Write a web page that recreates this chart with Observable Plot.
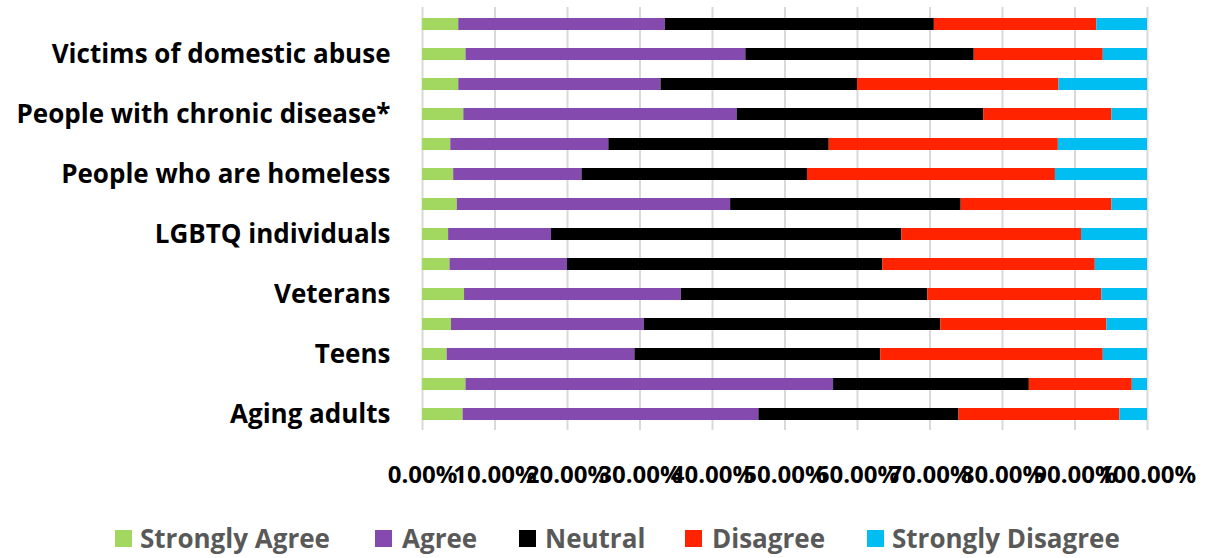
<!DOCTYPE html>
<html>
<head>
<meta charset="utf-8">
<script src="https://cdn.jsdelivr.net/npm/d3@7"></script>
<script src="https://cdn.jsdelivr.net/npm/@observablehq/plot@0.6"></script>
<style>
  html, body { margin: 0; padding: 0; background: #fff; }
  body { width: 1212px; height: 558px; overflow: hidden; font-family: "Open Sans", sans-serif; position: relative; }
  #chart svg { display: block; }
  .legend { position: absolute; left: 0; top: 0; width: 1212px; height: 558px; pointer-events: none; }
  .legend .sw { position: absolute; top: 530px; width: 17px; height: 17px; }
  .legend .lbl { position: absolute; top: 520px; line-height: 36px; font-weight: bold; font-size: 26px; color: #595959; white-space: nowrap; }
</style>
</head>
<body>
<div id="chart"></div>
<div class="legend" id="legend"></div>
<script>
// Row labels (only every second bar carries a label)
const rowLabels = [
  "", "Victims of domestic abuse",
  "", "People with chronic disease*",
  "", "People who are homeless",
  "", "LGBTQ individuals",
  "", "Veterans",
  "", "Teens",
  "", "Aging adults"
];

// Response categories and their colours
const seriesNames = ["Strongly Agree", "Agree", "Neutral", "Disagree", "Strongly Disagree"];
const seriesColors = ["#A2D760", "#854AAE", "#000000", "#FF2300", "#00BEF2"];

// Share of responses (%) per row, top to bottom
const stronglyAgree    = [5.0, 6.0, 5.0, 5.7, 3.9, 4.3, 4.8, 3.6, 3.8, 5.8, 4.0, 3.4, 6.0, 5.6];
const agree            = [28.5, 38.6, 27.9, 37.7, 21.8, 17.7, 37.7, 14.2, 16.2, 29.9, 26.6, 25.9, 50.7, 40.8];
const neutral          = [37.1, 31.5, 27.1, 34.0, 30.4, 31.1, 31.8, 48.3, 43.5, 34.0, 40.9, 33.9, 27.0, 27.6];
const disagree         = [22.4, 17.8, 27.8, 17.7, 31.6, 34.2, 20.8, 24.8, 29.3, 24.0, 22.9, 30.7, 14.2, 22.2];
const stronglyDisagree = [7.0, 6.1, 12.2, 4.9, 12.3, 12.7, 4.9, 9.1, 7.2, 6.3, 5.6, 6.1, 2.1, 3.8];

// Axis ticks
const xTicks = [0, 10, 20, 30, 40, 50, 60, 70, 80, 90, 100];

const seriesValues = [stronglyAgree, agree, neutral, disagree, stronglyDisagree];
const rows = d3.range(rowLabels.length);
const data = [];
seriesNames.forEach((name, s) => {
  rows.forEach(r => data.push({row: r, series: name, value: seriesValues[s][r]}));
});

const font = "'Open Sans', sans-serif";

const chart = Plot.plot({
  width: 1212,
  height: 500,
  marginTop: 7,
  marginBottom: 70,
  marginLeft: 422,
  marginRight: 65,
  style: {fontFamily: font, fontWeight: "bold", color: "#000", background: "#fff"},
  x: {domain: [0, 100]},
  y: {domain: rows, paddingInner: 0.6, paddingOuter: 0.3},
  color: {domain: seriesNames, range: seriesColors},
  marks: [
    Plot.gridX(xTicks, {stroke: "#d9d9d9", strokeOpacity: 1, strokeWidth: 2}),
    Plot.barX(data, Plot.stackX({
      x: "value",
      y: "row",
      fill: "series",
      z: "series",
      order: seriesNames
    })),
    Plot.axisX(xTicks, {
      tickSize: 0,
      tickPadding: 35,
      fontSize: 24,
      fontWeight: "bold",
      textAnchor: "middle",
      tickFormat: d => d.toFixed(2) + "%",
      label: null
    }),
    Plot.axisY(rows, {
      tickSize: 0,
      tickPadding: 32,
      fontSize: 26,
      fontWeight: "bold",
      tickFormat: i => rowLabels[i],
      label: null
    })
  ]
});
document.getElementById("chart").appendChild(chart);

// Legend below the chart: swatch and label left edges
const legendSwatchX = [115, 375, 519, 685, 867];
const legendLabelX = [140, 402, 545, 712, 892];
const legend = document.getElementById("legend");
seriesNames.forEach((name, i) => {
  const sw = document.createElement("div");
  sw.className = "sw";
  sw.style.left = legendSwatchX[i] + "px";
  sw.style.background = seriesColors[i];
  const label = document.createElement("div");
  label.className = "lbl";
  label.style.left = legendLabelX[i] + "px";
  label.textContent = name;
  legend.appendChild(sw);
  legend.appendChild(label);
});
</script>
</body>
</html>
